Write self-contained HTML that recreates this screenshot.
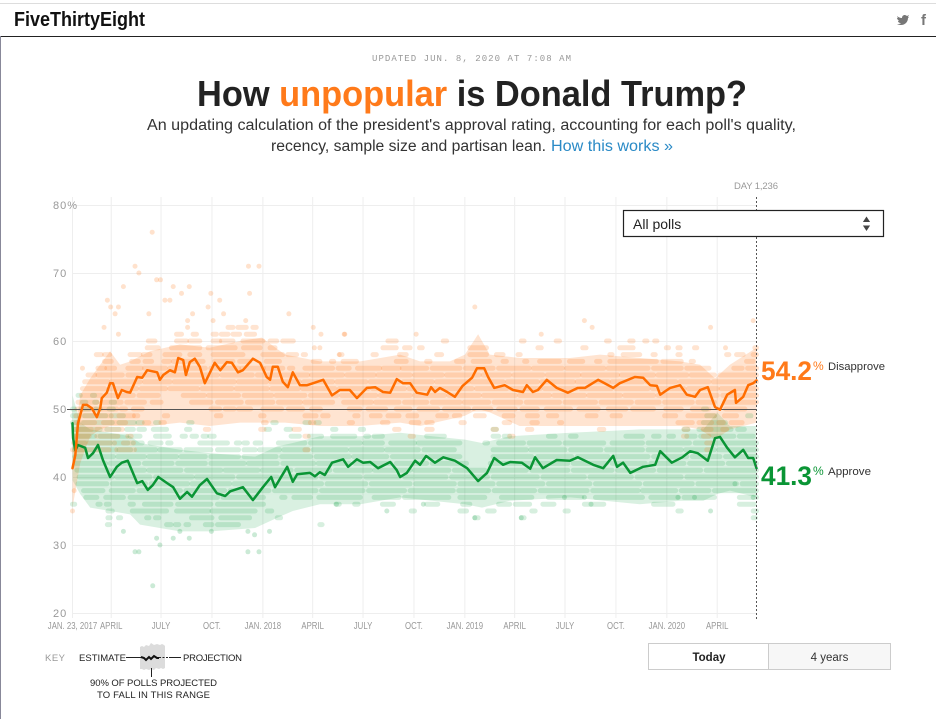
<!DOCTYPE html>
<html lang="en">
<head>
<meta charset="utf-8">
<title>How unpopular is Donald Trump?</title>
<style>
html,body{margin:0;padding:0;background:#fff;width:936px;height:719px;overflow:hidden}
svg{display:block;font-family:"Liberation Sans",sans-serif}
.tick{fill:#999;font-size:11px;letter-spacing:1px}
.xt{fill:#999;font-size:10px}
.key{fill:#222;font-size:9.5px}
</style>
</head>
<body>
<svg id="root" width="936" height="719" viewBox="0 0 936 719">
  <rect x="0" y="3" width="936" height="1" fill="#ddd"/>
  <rect x="0" y="36" width="936" height="1" fill="#222"/>
  <rect x="0" y="36" width="1" height="683" fill="#889"/>
  <text x="14" y="26" font-size="20" font-weight="700" fill="#111" textLength="131" lengthAdjust="spacingAndGlyphs">FiveThirtyEight</text>
  <path d="M897 16c1 1 3 2 5 2 0-3 3-4 5-2l2-1-1 2 1 0-1 1c0 5-5 9-11 6 2 0 3 0 4-1-2 0-3-1-3-2h1c-1-1-2-2-2-3h1c-1-1-1-2 0-2z" fill="#777"/>
  <text x="921" y="25" font-size="15" font-weight="700" fill="#777">f</text>

  <text x="372" y="61" font-family="Liberation Mono, monospace" font-size="9" fill="#999" textLength="199" lengthAdjust="spacing">UPDATED JUN. 8, 2020 AT 7:08 AM</text>
  <text x="197" y="106" font-size="36" font-weight="700" fill="#222" textLength="550" lengthAdjust="spacingAndGlyphs">How <tspan fill="#ff7a1a">unpopular</tspan> is Donald Trump?</text>
  <text x="147" y="130" font-size="15.5" fill="#333" textLength="649" lengthAdjust="spacingAndGlyphs">An updating calculation of the president's approval rating, accounting for each poll's quality,</text>
  <text x="271" y="151" font-size="15.5" fill="#333" textLength="275" lengthAdjust="spacingAndGlyphs">recency, sample size and partisan lean.</text>
  <text x="551" y="151" font-size="15.5" fill="#2a8ac6" textLength="122" lengthAdjust="spacingAndGlyphs">How this works »</text>

  <g id="grid"></g>
  <g id="bands"></g>
  <g id="polls"></g>
  <g id="axis-labels"></g>
  <g id="lines"></g>

  <line x1="756.5" x2="756.5" y1="197" y2="620" stroke="#555" stroke-width="1" stroke-dasharray="2 2"/>
  <text x="734" y="189" font-size="9.5" fill="#999" textLength="44" lengthAdjust="spacing">DAY 1,236</text>

  <g>
    <rect x="623.5" y="210.5" width="260" height="26" fill="#fff" stroke="#222" stroke-width="1.2"/>
    <text x="633" y="229" font-size="14" fill="#222">All polls</text>
    <path d="M866.5 216.500l3.600 5.500h-7.200zM866.500 231l3.600-5.500h-7.200z" fill="#444"/>
  </g>

  <text x="761" y="380" font-size="27" font-weight="700" fill="#ff7a1a" textLength="51" lengthAdjust="spacingAndGlyphs">54.2</text>
  <text x="813" y="370" font-size="12" fill="#ff7a1a">%</text>
  <text x="828" y="370" font-size="11" fill="#333" textLength="57" lengthAdjust="spacingAndGlyphs">Disapprove</text>
  <text x="761" y="485" font-size="27" font-weight="700" fill="#0a9535" textLength="51" lengthAdjust="spacingAndGlyphs">41.3</text>
  <text x="813" y="475" font-size="12" fill="#0a9535">%</text>
  <text x="828" y="475" font-size="11" fill="#333" textLength="43" lengthAdjust="spacingAndGlyphs">Approve</text>

  <g>
    <text x="45" y="661" font-size="9.5" fill="#999" textLength="20" lengthAdjust="spacing">KEY</text>
    <text class="key" x="79" y="661" textLength="47" lengthAdjust="spacing">ESTIMATE</text>
    <path d="M140 647l2-1 2 1 2-2 3 1 2-3 3 2 3-1 3 1 2-1 2 1 1 1v22l-2 1-2-1-2 1-3-1-2 2-3-1-2 1-3-1-2 1-2-1-2 0z" fill="#dcdcdc"/>
    <line x1="126" x2="141" y1="657.5" y2="657.5" stroke="#222" stroke-width="1"/>
    <path d="M141 657l3 1 2 2 3-3 2 2 3-3 3 2 2 0" fill="none" stroke="#111" stroke-width="2"/>
    <line x1="159" x2="169" y1="657.5" y2="657.5" stroke="#222" stroke-width="1" stroke-dasharray="2 1.5"/>
    <line x1="169" x2="181" y1="657.5" y2="657.5" stroke="#222" stroke-width="1"/>
    <text class="key" x="183" y="661" textLength="59" lengthAdjust="spacing">PROJECTION</text>
    <line x1="151.5" x2="151.5" y1="668" y2="677" stroke="#222" stroke-width="1"/>
    <text class="key" x="90" y="686" textLength="127" lengthAdjust="spacing">90% OF POLLS PROJECTED</text>
    <text class="key" x="97" y="698" textLength="113" lengthAdjust="spacing">TO FALL IN THIS RANGE</text>
  </g>

  <g>
    <rect x="648.5" y="643.5" width="120" height="26" fill="#fff" stroke="#ccc"/>
    <rect x="768.5" y="643.5" width="122" height="26" fill="#f7f7f7" stroke="#ccc"/>
    <text x="709" y="661" font-size="11.5" font-weight="700" fill="#222" text-anchor="middle">Today</text>
    <text x="829.5" y="661" font-size="11.5" fill="#333" text-anchor="middle">4 years</text>
  </g>
</svg>

<script>
const yTicks = [80, 70, 60, 50, 40, 30, 20];
const xTickDays = [0, 70, 160, 252, 344, 434, 525, 617, 709, 799, 890, 982, 1074, 1165];
const xTickLabels = ["JAN. 23, 2017", "APRIL", "JULY", "OCT.", "JAN. 2018", "APRIL", "JULY", "OCT.", "JAN. 2019", "APRIL", "JULY", "OCT.", "JAN. 2020", "APRIL"];

const disapproveDays = [0,5,10,19,26,35,44,50,53,62,68,73,82,89,98,104,117,126,135,153,158,164,176,185,191,200,205,212,221,230,239,257,267,279,288,299,308,326,339,351,357,362,371,380,389,398,411,424,435,453,469,483,501,514,532,547,561,574,586,597,610,622,641,648,655,664,677,691,705,722,731,744,751,762,781,796,814,821,832,841,857,875,895,913,926,950,977,989,1016,1031,1044,1056,1062,1080,1098,1110,1125,1134,1148,1161,1170,1183,1197,1199,1212,1221,1230,1236];
const disapproveValues = [41.3,43.2,47.9,50.6,50.6,50.1,48.8,50.1,51.6,52.4,53.8,53.8,51.6,52.8,52.5,52.4,54.7,54.6,55.7,55.4,54.3,55,55.7,55.4,57.5,57.2,55,56.9,57.4,56.2,53.8,56.8,55.7,56.9,56.8,55.4,55.7,57.4,56.8,54.7,54.3,56.2,56.2,54,53.2,55.4,53.5,53.5,53.8,54.3,52,52.8,52.8,51.6,53.1,53.2,52.5,52.4,54.4,53.8,53.8,52.4,52.1,53.2,52.5,53.1,52.5,51.8,53.4,54.6,56,56,54.7,53.1,53.5,52.8,52.5,53.5,52.5,52.8,54.3,53.1,52.4,53.1,53.1,54.3,53.1,53.8,54.7,54.6,53.5,53.4,52.1,53.1,53.5,52.1,51.8,52.8,53.2,50.3,49.9,52.1,52.8,50.9,51.8,53.5,53.8,54.2];

const approveDays = [0,1,5,10,23,28,37,46,55,68,80,89,100,117,126,136,145,155,171,182,194,207,216,230,243,261,276,285,308,326,344,359,366,388,398,406,429,438,447,456,469,489,498,514,525,538,552,574,586,592,604,619,628,639,655,670,691,713,733,749,762,778,791,812,827,836,850,875,899,913,941,959,977,984,995,1008,1031,1053,1062,1083,1102,1116,1130,1148,1161,1170,1183,1197,1212,1221,1230,1236];
const approveValues = [47.9,45.7,43.9,44.7,44.3,42.8,43.5,44.7,42.5,40,41.5,42.1,42.4,39.1,39.4,38.1,38.8,40,39.1,38.5,36.8,37.8,37.1,38.8,39.7,37.6,37.2,37.9,38.5,36.6,38.5,40,38.5,41.5,39.3,40.4,40.6,40.1,40.7,40.3,42.1,42.6,41.5,42.6,42.1,42.2,41.3,42.2,41,40,40.6,42.4,41.8,43.1,42.1,42.9,42.4,41.3,39.4,40.6,42.8,41.8,42.2,42.1,41.2,42.9,41.3,42.5,42.4,42.9,41.8,41.3,43.1,41.5,42.1,40.6,41.5,41.8,43.8,42.1,42.9,43.8,43.5,42.4,45.7,45.9,44.3,42.9,44,42.8,42.8,41.3];

const disapproveBandDays = [0,14,32,50,68,86,104,140,194,248,303,342,384,447,520,592,628,682,709,733,754,808,899,953,1025,1098,1134,1161,1188,1236];
const disapproveBandLow = [35.5,42,46,47,47.5,47.5,47.5,47.5,48,47.5,48,48,48,47.5,47.5,48,47.5,48.5,49,50,49.5,47.5,47.5,47.5,47.5,47.5,47,45.5,47,48];
const disapproveBandHigh = [44,52,54.5,56.5,58.5,56.5,57,58.5,59.5,59,60,60.5,58,57,57,58,57,57,58,61,58,57.5,57.5,58,57.5,57,56.5,54.5,56.5,59];

const approveBandDays = [0,14,32,68,104,122,194,250,330,370,398,447,520,592,650,709,740,790,900,1025,1098,1140,1165,1188,1236];
const approveBandLow = [39.5,37.5,35.5,35,34.5,33,32,32,32.5,34,35,36,36,37,36.5,36,35.5,36.5,37,36,36.5,36.5,37.5,38,37];
const approveBandHigh = [52,48,47,46.5,46,45,44,43.5,43,44.5,45,46,46,46.5,46,45.5,45,46,46.5,47,47,47,49.5,47.5,47.5];

const disapproveRowValues = [62,61,60,59,58,57,56,55,54,53,52,51,50,49,48,47,46,45,44];
const disapproveRowRuns = [
 [281,290,299,314,326,332],
 [188,197,218,224,254,260,269,281,290,302,314,329],
 [137,149,188,206,212,230,254,266,269,290,308,344,357,369,380,399,570,585,670,676,811,816,874,880,965,970,1007,1013,1034,1038,1052,1056],
 [135,155,179,230,245,294,309,339,357,366,561,585,600,610,627,632,718,748,841,847,922,928,989,1013,1073,1077,1094,1098,1124,1128,1233,1236],
 [43,52,58,67,104,122,128,140,167,194,212,230,254,308,344,380,389,405,417,421,483,487,543,549,591,603,658,667,718,748,766,778,805,809,971,975,995,1025,1049,1053,1094,1098,1182,1186,1200,1212,1230,1236],
 [58,70,107,119,131,143,165,175,182,236,257,290,302,320,350,374,435,447,468,472,489,513,585,603,640,646,694,706,724,754,778,784,817,821,844,880,898,922,947,953,971,1055,1067,1100,1118,1122,1218,1230],
 [46,58,62,76,100,124,130,168,176,240,250,300,306,345,350,380,392,398,420,470,480,500,515,555,562,590,596,640,650,700,710,760,770,825,833,885,893,960,968,1040,1050,1100,1110,1150,1195,1210,1220,1236],
 [28,40,46,90,100,150,158,205,212,262,270,325,334,372,380,425,432,488,496,545,552,610,618,668,676,735,742,790,798,850,858,915,922,985,992,1050,1058,1110,1118,1160,1170,1236],
 [22,64,70,122,130,176,184,232,240,292,300,350,358,410,418,470,478,530,538,590,598,650,658,715,722,778,786,840,848,905,912,968,975,1030,1038,1090,1098,1150,1158,1236],
 [18,58,66,116,124,168,176,226,234,288,296,352,360,408,416,474,482,534,542,600,608,660,668,722,730,785,793,845,853,910,918,974,982,1040,1048,1105,1113,1165,1172,1236],
 [16,52,60,110,120,155,200,238,246,300,310,360,368,420,430,478,486,548,556,610,618,672,680,735,743,800,808,862,870,925,933,990,998,1050,1058,1115,1123,1165,1175,1236],
 [10,44,54,88,98,130,144,160,215,250,262,305,316,362,372,412,420,470,490,540,548,590,600,640,650,700,708,752,762,810,820,880,890,945,955,1010,1020,1060,1070,1120,1130,1160,1178,1236],
 [8,42,50,80,88,96,110,126,250,266,276,292,300,322,344,378,390,416,432,448,500,520,534,566,585,610,626,660,672,716,726,756,770,800,812,840,856,900,915,950,968,1000,1012,1050,1072,1100,1120,1150,1180,1215],
 [6,36,46,70,84,110,112,118,166,172,260,268,340,346,420,440,452,462,510,516,540,556,570,590,606,622,660,676,690,700,728,744,780,796,822,840,860,875,930,946,975,990,1070,1090,1112,1160,1178,1200],
 [6,40,56,96,130,138,160,166,345,350,430,436,500,506,560,570,612,626,640,650,702,708,780,790,830,840,880,884,1094,1120,1132,1155,1168,1176,1190,1210],
 [4,34,44,90,240,246,340,346,400,410,582,590,640,650,760,766,822,830,952,960,1105,1112,1140,1154,1175,1182],
 [4,30,44,82,100,106,420,426,610,616,790,796,1104,1110,1140,1150],
 [2,22,30,76,92,110,1146,1154],
 [0,20,26,66,80,112,420,426,1146,1152]
];
const disapproveOutlierDays = [144,113,120,152,159,92,182,211,197,167,176,63,69,83,77,138,217,57,83,18,250,245,266,273,254,208,208,318,337,320,313,391,435,449,491,437,447,482,727,925,939,492,621,847,1153,1230,1180,0,3];
const disapproveOutlierValues = [76,71,70,69,69,68,68,68,67,66,66,66,65,65,64,64,64,62,61,56,67,65,66,64,63,63,62,71,71,67,63,64,62,61,61,59,59,58,65,63,62,61,61,61,62,63,59,35,38];

const approveRowValues = [52,51,50,49,48,47,46,45,44,43,42,41,40,39,38,37,36,35,34,33];
const approveRowRuns = [
 [10,14,36,40],
 [18,24,40,44,70,76],
 [0,4,16,30,42,50,66,74,1140,1146],
 [0,12,22,60,70,92,1146,1160,1220,1226],
 [0,10,20,72,84,112,118,126,150,156,210,216,362,368,420,428,440,446,1140,1180],
 [4,50,62,84,98,110,120,130,146,170,206,212,350,356,386,394,470,476,520,526,760,766,1105,1112,1132,1190,1202,1214],
 [4,40,50,98,104,122,150,175,198,204,216,224,236,242,248,256,395,410,428,450,470,510,530,535,545,560,640,672,760,770,780,790,860,872,900,910,1000,1030,1050,1060,1078,1086,1110,1125,1135,1195,1205,1230],
 [4,68,76,100,110,126,140,160,172,178,230,280,296,302,310,316,330,340,372,420,430,520,528,560,575,618,625,700,745,750,770,815,825,880,890,960,975,1030,1040,1115,1125,1236],
 [4,78,84,105,115,150,158,195,205,250,262,300,310,330,338,374,382,425,435,495,503,560,568,625,635,690,760,820,828,890,900,955,965,1030,1040,1100,1108,1160,1168,1236],
 [4,74,82,130,138,188,196,240,250,300,310,368,378,430,440,500,508,568,578,634,645,700,760,830,840,902,912,968,978,1040,1050,1110,1120,1170,1180,1236],
 [6,60,68,120,130,180,190,240,250,310,318,370,380,436,444,500,510,575,585,640,650,712,755,830,838,895,905,965,975,1035,1045,1105,1115,1175,1185,1236],
 [8,66,74,130,138,196,206,268,276,335,343,395,405,465,475,538,546,610,618,680,690,745,755,820,830,895,905,975,985,1050,1060,1135,1145,1236],
 [12,72,80,140,150,216,224,290,300,370,378,440,450,520,530,590,600,675,685,750,760,840,850,925,935,1010,1020,1100,1110,1236],
 [10,62,72,132,142,208,216,284,292,365,375,450,460,530,540,610,620,690,700,760,770,850,860,935,945,1025,1035,1120,1130,1200,1210,1236],
 [20,55,70,110,120,195,205,275,285,355,365,440,450,525,535,600,610,688,698,752,762,835,845,930,940,1022,1030,1090,1100,1150,1160,1236],
 [24,44,60,92,104,185,195,262,272,345,378,384,400,430,445,520,545,590,600,680,700,745,775,830,860,920,945,1030,1045,1095,1105,1160,1205,1236],
 [0,4,46,50,61,66,104,110,130,178,190,250,262,345,476,482,510,516,560,580,640,660,705,718,770,790,800,826,850,870,925,960,1050,1085,1205,1232],
 [64,72,108,170,188,246,252,330,352,360,612,618,700,712,750,762,830,836,890,896,1094,1100,1230,1236],
 [64,68,83,87,134,138,150,156,215,252,268,320,370,376,727,733,811,816,1230,1234],
 [63,67,170,178,186,192,205,210,240,252,262,300,447,451]
];
const approveOutlierDays = [145,113,120,158,152,182,211,92,194,251,317,356,317,337,329,568,634,727,937,811,889,925,1153,1230,1094,1124,1197,477];
const approveOutlierValues = [24,29,29,30,31,31,31,32,32,32,32,32,29,29,31.5,35,36,34,36,34,37,37,35,37,37,37,39,36];

const NS = 'http://www.w3.org/2000/svg';
function xScale(day) { return 72.5 + day * (684 / 1236); }
function yScale(v) { return 613 - (v - 20) * 6.8; }
function make(tag, parent, attrs, text) {
  const el = document.createElementNS(NS, tag);
  for (const k in attrs) el.setAttribute(k, attrs[k]);
  if (text !== undefined) el.textContent = text;
  parent.appendChild(el);
  return el;
}

const gridG = document.getElementById('grid');
const labelG = document.getElementById('axis-labels');
const bandG = document.getElementById('bands');
const pollG = document.getElementById('polls');
const lineG = document.getElementById('lines');

yTicks.forEach(function (t) {
  const line = make('line', gridG, {x1: 72.5, x2: 756.5, y1: yScale(t) + .5, y2: yScale(t) + .5, stroke: '#eee', 'stroke-width': 1});
  
  
  const label = make('text', labelG, {x: 53, y: yScale(t) + 4, 'class': 'tick'}, t === 80 ? '80%' : String(t));
  
  
});
xTickDays.forEach(function (d, i) {
  const line = make('line', gridG, {x1: xScale(d), x2: xScale(d), y1: 197, y2: 618, stroke: '#eee', 'stroke-width': 1});
  
  
  const label = make('text', labelG, {x: xScale(d), y: 629, 'class': 'xt', 'text-anchor': 'middle'}, xTickLabels[i]);
  
  
  label.setAttribute('textLength', (label.getComputedTextLength() * 0.78).toFixed(1));
  label.setAttribute('lengthAdjust', 'spacingAndGlyphs');
});

function drawBand(days, low, high, fill, opacity, name) {
  const top = days.map(function (d, i) { return xScale(d).toFixed(1) + ',' + yScale(high[i]).toFixed(1); });
  const bottom = days.map(function (d, i) { return xScale(d).toFixed(1) + ',' + yScale(low[i]).toFixed(1); }).reverse();
  const poly = make('polygon', bandG, {points: top.concat(bottom).join(' '), fill: fill, 'fill-opacity': opacity});
  
  
}
drawBand(approveBandDays, approveBandLow, approveBandHigh, '#12a044', .16, 'approve-band');
drawBand(disapproveBandDays, disapproveBandLow, disapproveBandHigh, '#ff7a1a', .2, 'disapprove-band');

function drawRows(values, runs, color, opacity, name) {
  values.forEach(function (v, r) {
    const list = runs[r];
    for (let i = 0; i < list.length; i += 2) {
      const run = make('line', pollG, {x1: xScale(list[i]), x2: xScale(list[i + 1]), y1: yScale(v), y2: yScale(v), stroke: color, 'stroke-opacity': opacity, 'stroke-width': 5, 'stroke-linecap': 'round'});
      
      
    }
  });
}
function drawDots(days, values, color, name) {
  days.forEach(function (d, i) {
    const dot = make('circle', pollG, {cx: xScale(d), cy: yScale(values[i]), r: 2.5, fill: color, 'fill-opacity': .22});
    
    
  });
}
drawRows(approveRowValues, approveRowRuns, '#12a044', .17, 'approve-poll-run');
drawDots(approveOutlierDays, approveOutlierValues, '#12a044', 'approve-poll-dot');
drawRows(disapproveRowValues, disapproveRowRuns, '#ff7a1a', .2, 'disapprove-poll-run');
drawDots(disapproveOutlierDays, disapproveOutlierValues, '#ff7a1a', 'disapprove-poll-dot');

const fiftyLine = make('line', lineG, {x1: 67, x2: 756.5, y1: yScale(50) + .5, y2: yScale(50) + .5, stroke: '#555', 'stroke-width': 1});



function drawLine(days, values, color, name) {
  const pts = days.map(function (d, i) { return xScale(d).toFixed(1) + ',' + yScale(values[i]).toFixed(1); }).join(' ');
  const line = make('polyline', lineG, {points: pts, fill: 'none', stroke: color, 'stroke-width': 2.5, 'stroke-linejoin': 'round', 'stroke-linecap': 'round'});
  
  
}
drawLine(approveDays, approveValues, '#0a9535', 'approve-line');
drawLine(disapproveDays, disapproveValues, '#ff6d00', 'disapprove-line');
</script>
</body>
</html>
